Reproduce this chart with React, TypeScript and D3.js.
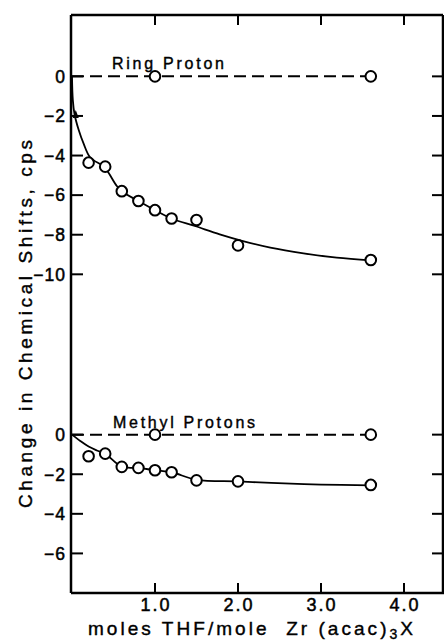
import React from "react";
import * as d3 from "d3";

// ring proton data (upper panel)
const ringX = [0.2, 0.4, 0.6, 0.8, 1.0, 1.2, 1.5, 2.0, 3.6];
const ringShift = [-4.36, -4.56, -5.8, -6.3, -6.76, -7.18, -7.26, -8.54, -9.28];
const ringRefX = [1.0, 3.6];
const ringRefShift = [0, 0];
const ringFitX = [0, 0.01, 0.03, 0.08, 0.14, 0.22, 0.38, 0.44, 0.54, 0.6, 0.8, 1.0, 1.2, 1.48, 1.78, 2.06, 2.39, 2.79, 3.19, 3.6];
const ringFitShift = [0, -1.2, -1.9, -2.7, -3.4, -4.1, -4.55, -4.87, -5.54, -5.8, -6.3, -6.76, -7.18, -7.56, -7.98, -8.32, -8.65, -8.94, -9.16, -9.3];

// methyl proton data (lower panel)
const methylX = [0.2, 0.4, 0.6, 0.8, 1.0, 1.2, 1.5, 2.0, 3.6];
const methylShift = [-1.09, -0.96, -1.63, -1.68, -1.8, -1.9, -2.31, -2.36, -2.54];
const methylRefX = [1.0, 3.6];
const methylRefShift = [0, 0];
const methylFitX = [0, 0.1, 0.2, 0.3, 0.4, 0.6, 0.8, 1.0, 1.2, 1.5, 2.0, 2.4, 3.0, 3.6];
const methylFitShift = [0, -0.32, -0.6, -0.8, -0.97, -1.62, -1.68, -1.8, -1.9, -2.28, -2.36, -2.44, -2.52, -2.56];

// ticks
const xTicks = [1, 2, 3, 4];
const xTickLabels = ["1.0", "2.0", "3.0", "4.0"];
const ringTicks = [0, -2, -4, -6, -8, -10];
const methylTicks = [0, -2, -4, -6];

const W = 444;
const H = 643;
const left = 71;
const right = 443;
const top = 15;
const bottom = 593;

const font = "'Liberation Sans', Arial, sans-serif";

const zip = (xs: number[], ys: number[]) => xs.map((x, i) => [x, ys[i]] as [number, number]);
const fmt = (v: number) => (v < 0 ? "\u2212" + Math.abs(v) : String(v));

export default function App() {
  const x = d3.scaleLinear().domain([0, 4.47]).range([left + 1, right]);
  // both panels share one unit size, offset vertically
  const yRing = d3.scaleLinear().domain([3.1, -26.1]).range([top, bottom]);
  const yMethyl = d3.scaleLinear().domain([21.2, -8]).range([top, bottom]);

  const lineFor = (y: d3.ScaleLinear<number, number>) =>
    d3
      .line<[number, number]>()
      .x(d => x(d[0]))
      .y(d => y(d[1]))
      .curve(d3.curveCatmullRom.alpha(0.5));

  const straight = (y: d3.ScaleLinear<number, number>) =>
    d3
      .line<[number, number]>()
      .x(d => x(d[0]))
      .y(d => y(d[1]));

  const panels = [
    {
      y: yRing,
      pts: zip(ringX, ringShift),
      ref: zip(ringRefX, ringRefShift),
      fit: zip(ringFitX, ringFitShift),
      ticks: ringTicks,
      label: "Ring Proton",
      labelX: 112,
      labelLen: 112,
      labelGap: 7
    },
    {
      y: yMethyl,
      pts: zip(methylX, methylShift),
      ref: zip(methylRefX, methylRefShift),
      fit: zip(methylFitX, methylFitShift),
      ticks: methylTicks,
      label: "Methyl Protons",
      labelX: 113,
      labelLen: 142,
      labelGap: 7
    }
  ];

  // heavier strokes on text, like the hand lettering of the original
  const ink = { fill: "#000", stroke: "#000", strokeWidth: 0.5 };

  return (
    <svg
      width={W}
      height={H}
      style={{ position: "absolute", left: 0, top: 0, background: "#fff" }}
    >
      <rect x={0} y={0} width={W} height={H} fill="#fff" />

      {/* frame */}
      <g stroke="#000" fill="none" strokeWidth={2.5}>
        <line x1={left} y1={top} x2={right} y2={top} />
        <line x1={left} y1={top} x2={left} y2={bottom} />
        <line x1={left} y1={bottom} x2={W} y2={bottom} />
        <line x1={right} y1={top} x2={right} y2={bottom} />
      </g>

      {/* x ticks top and bottom */}
      <g stroke="#000" strokeWidth={2}>
        {xTicks.map(t => (
          <g key={t}>
            <line x1={x(t)} x2={x(t)} y1={top} y2={top + 10} />
            <line x1={x(t)} x2={x(t)} y1={bottom} y2={bottom - 10} />
          </g>
        ))}
      </g>
      <g fontFamily={font} fontSize={18} textAnchor="middle" {...ink}>
        {xTicks.map((t, i) => (
          <text key={t} x={x(t) + 1} y={611} letterSpacing={2}>
            {xTickLabels[i]}
          </text>
        ))}
      </g>

      {panels.map((p, k) => (
        <g key={k}>
          {/* y ticks left and right */}
          <g stroke="#000" strokeWidth={2}>
            {p.ticks.map(t => (
              <g key={t}>
                <line x1={left} x2={left + 12} y1={p.y(t)} y2={p.y(t)} />
                <line x1={right} x2={right - 11} y1={p.y(t)} y2={p.y(t)} />
              </g>
            ))}
          </g>
          <g fontFamily={font} fontSize={17.5} textAnchor="end" {...ink}>
            {p.ticks.map(t => (
              <text key={t} x={66} y={p.y(t)} dy="0.36em" letterSpacing={1}>
                {fmt(t)}
              </text>
            ))}
          </g>

          {/* reference (no change) dashed line */}
          <path
            d={straight(p.y)([[0, 0], p.ref[p.ref.length - 1]]) || ""}
            stroke="#000"
            strokeWidth={2}
            strokeDasharray="12 6"
            fill="none"
          />
          <text
            x={p.labelX}
            y={p.y(0) - p.labelGap}
            fontFamily={font}
            fontSize={16}
            textLength={p.labelLen}
            lengthAdjust="spacing"
            {...ink}
            strokeWidth={0.4}
          >
            {p.label}
          </text>

          {/* fitted curve */}
          <path d={lineFor(p.y)(p.fit) || ""} stroke="#000" strokeWidth={1.8} fill="none" />

          {/* points */}
          <g stroke="#000" strokeWidth={2} fill="#fff">
            {p.ref.concat(p.pts).map((d, i) => (
              <circle key={i} cx={x(d[0])} cy={p.y(d[1])} r={5.3} />
            ))}
          </g>
        </g>
      ))}

      {/* small arrowhead on the ring curve near the axis */}
      <path d={`M${x(0.045)},${yRing(-1.7)} l-3,8 l6,0 z`} fill="#000" />

      {/* axis titles */}
      <text
        x={88}
        y={635}
        fontFamily={font}
        fontSize={19}
        textLength={325}
        lengthAdjust="spacing"
        style={{ whiteSpace: "pre" }}
        {...ink}
        strokeWidth={0.4}
      >
        {"moles THF/mole  Zr (acac)"}
        <tspan fontSize={14} dy={4}>3</tspan>
        <tspan dy={-4}>X</tspan>
      </text>
      <text
        transform={`translate(32,324) rotate(-90)`}
        fontFamily={font}
        fontSize={19}
        textAnchor="middle"
        textLength={368}
        lengthAdjust="spacing"
        style={{ whiteSpace: "pre" }}
        {...ink}
        strokeWidth={0.4}
      >
        Change in Chemical Shifts, cps
      </text>
    </svg>
  );
}
